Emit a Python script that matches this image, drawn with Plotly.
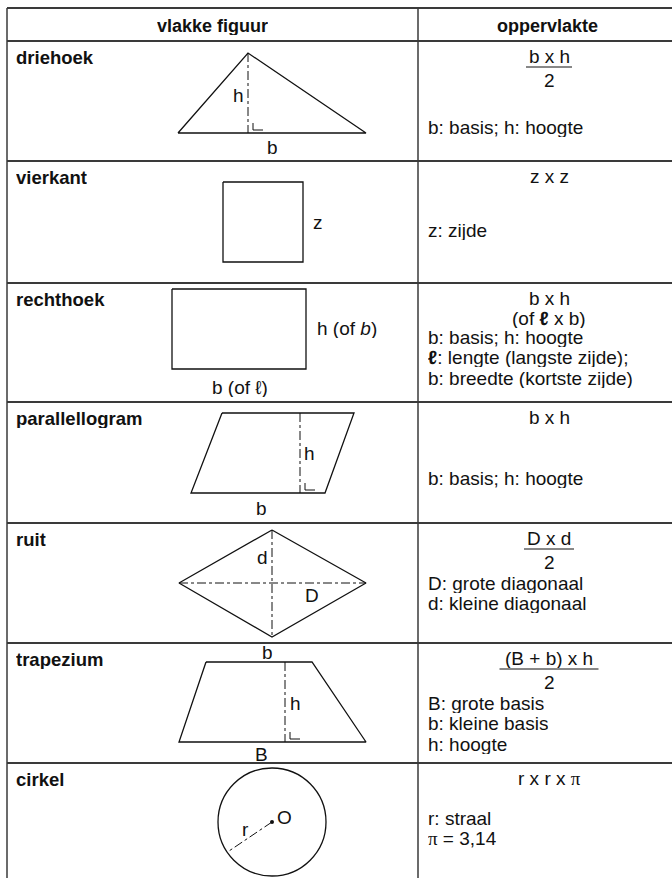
import plotly.graph_objects as go

# --- tekst van de tabel ---
kolommen = ["vlakke figuur", "oppervlakte"]
figuren = ["driehoek", "vierkant", "rechthoek", "parallellogram", "ruit", "trapezium", "cirkel"]

PI = '<span style="font-family:Liberation Serif">π</span>'
formule = [
    ["b x h", "2"],
    ["z x z"],
    ["b x h", "(of <b>ℓ</b> x b)"],
    ["b x h"],
    ["D x d", "2"],
    ["(B + b) x h", "2"],
    ["r x r x " + PI],
]
is_breuk = [True, False, False, False, True, True, False]
breuk_breedte = [46, 0, 0, 0, 50, 99, 0]

uitleg = [
    ["b: basis; h: hoogte"],
    ["z: zijde"],
    ["b: basis; h: hoogte", "<b>ℓ</b>: lengte (langste zijde);", "b: breedte (kortste zijde)"],
    ["b: basis; h: hoogte"],
    ["D: grote diagonaal", "d: kleine diagonaal"],
    ["B: grote basis", "b: kleine basis", "h: hoogte"],
    ["r: straal", PI + " = 3,14"],
]
uitleg_y = [127, 230, 337, 478, 583, 703, 818]

# --- raster ---
rij_rand = [8, 41, 161, 283, 402, 523, 643, 763, 878]
kol_rand = [7, 418, 672]

# --- figuren (pixelcoordinaten) ---
driehoek_x = [178, 248, 366, 178]
driehoek_y = [133, 53, 133, 133]
vierkant_x = [223, 303, 303, 223, 223]
vierkant_y = [182, 182, 262, 262, 182]
rechthoek_x = [172, 306, 306, 172, 172]
rechthoek_y = [289, 289, 369, 369, 289]
parallel_x = [222, 354, 325, 191, 222]
parallel_y = [413, 413, 493, 493, 413]
ruit_x = [272, 366, 272, 179, 272]
ruit_y = [530, 583, 637, 583, 530]
trapezium_x = [206, 312, 366, 179, 206]
trapezium_y = [662, 662, 742, 742, 662]
cirkel_m = (272, 822)
cirkel_r = 54

# streep-stippellijnen (x0, y0, x1, y1)
hulplijnen = [
    (248, 53, 248, 133),
    (300, 413, 300, 493),
    (179, 583, 366, 583),
    (272, 530, 272, 637),
    (285, 662, 285, 742),
    (272, 822, 229, 851),
]
rechte_hoeken = [(248, 133), (300, 493), (285, 742)]

# labels in de figuren: tekst, x, y, anker
labels = [
    ("h", 246, 95, "right"), ("b", 272, 147, "center"),
    ("z", 318, 222, "center"),
    ("h (of <i>b</i>)", 315, 328, "left"), ("b (of ℓ)", 240, 387, "center"),
    ("h", 302, 453, "left"), ("b", 261, 508, "center"),
    ("d", 270, 557, "right"), ("D", 312, 595, "center"),
    ("b", 267, 652, "center"), ("h", 288, 703, "left"), ("B", 261, 754, "center"),
    ("O", 275, 817, "left"), ("r", 245, 829, "center"),
]

FONT = "Liberation Sans, Arial, sans-serif"
INK = "#111111"
GRID = "#3a3a3a"

fig = go.Figure()


def lijn(x, y, dash="solid", kleur=INK, dikte=1.3):
    fig.add_trace(go.Scatter(x=x, y=y, mode="lines", hoverinfo="skip",
                             line=dict(color=kleur, width=dikte, dash=dash)))


# raster
for y in rij_rand[:-1]:
    lijn([kol_rand[0], kol_rand[-1]], [y, y], kleur=GRID, dikte=1.8)
for x in kol_rand[:-1]:
    lijn([x, x], [rij_rand[0], rij_rand[-1]], kleur=GRID, dikte=1.5)

# figuren
for xs, ys in [(driehoek_x, driehoek_y), (vierkant_x, vierkant_y), (rechthoek_x, rechthoek_y),
               (parallel_x, parallel_y), (ruit_x, ruit_y), (trapezium_x, trapezium_y)]:
    lijn(xs, ys)

for x0, y0, x1, y1 in hulplijnen:
    lijn([x0, x1], [y0, y1], dash="dashdot", dikte=1)

for x0, y0 in rechte_hoeken:
    lijn([x0 + 5, x0 + 5, x0 + 15], [y0 - 10, y0 - 3, y0 - 3], dikte=1)

fig.add_shape(type="circle", xref="x", yref="y",
              x0=cirkel_m[0] - cirkel_r, x1=cirkel_m[0] + cirkel_r,
              y0=cirkel_m[1] - cirkel_r, y1=cirkel_m[1] + cirkel_r,
              line=dict(color=INK, width=1.3))
fig.add_trace(go.Scatter(x=[cirkel_m[0]], y=[cirkel_m[1]], mode="markers",
                         marker=dict(color=INK, size=4), hoverinfo="skip"))

ann = []


def tekst(t, x, y, anker="center", grootte=19):
    ann.append(dict(text=t, x=x, y=y, xref="x", yref="y", xanchor=anker, yanchor="middle",
                    height=19, showarrow=False,
                    font=dict(family=FONT, size=grootte, color=INK)))


# kopregel
tekst("<b>" + kolommen[0] + "</b>", (kol_rand[0] + kol_rand[1]) / 2, 25, grootte=18)
tekst("<b>" + kolommen[1] + "</b>", (kol_rand[1] + kol_rand[2]) / 2 + 2, 25, grootte=18)

midden = (kol_rand[1] + kol_rand[2]) / 2 + 4
for i, naam in enumerate(figuren):
    top = rij_rand[i + 1]
    tekst("<b>" + naam + "</b>", 14, top + 16, "left", grootte=18.5)
    if is_breuk[i]:
        tekst(formule[i][0], midden, top + 15)
        lijn([midden - breuk_breedte[i] / 2, midden + breuk_breedte[i] / 2],
             [top + 26, top + 26], dikte=1)
        tekst(formule[i][1], midden, top + 39)
    else:
        for j, regel in enumerate(formule[i]):
            tekst(regel, midden, top + 15 + j * 20.5)
    for j, regel in enumerate(uitleg[i]):
        tekst(regel, kol_rand[1] + 8, uitleg_y[i] + j * 20.5, "left")

for t, x, y, a in labels:
    tekst(t, x, y, a)

fig.update_layout(
    width=672, height=878,
    margin=dict(l=0, r=0, t=0, b=0),
    paper_bgcolor="white", plot_bgcolor="white",
    showlegend=False,
    annotations=ann,
    xaxis=dict(range=[0, 672], visible=False, fixedrange=True),
    yaxis=dict(range=[878, 0], visible=False, fixedrange=True),
)

fig.write_html("out.html", config={"displayModeBar": False},
               post_script="document.body.style.margin='0';")
